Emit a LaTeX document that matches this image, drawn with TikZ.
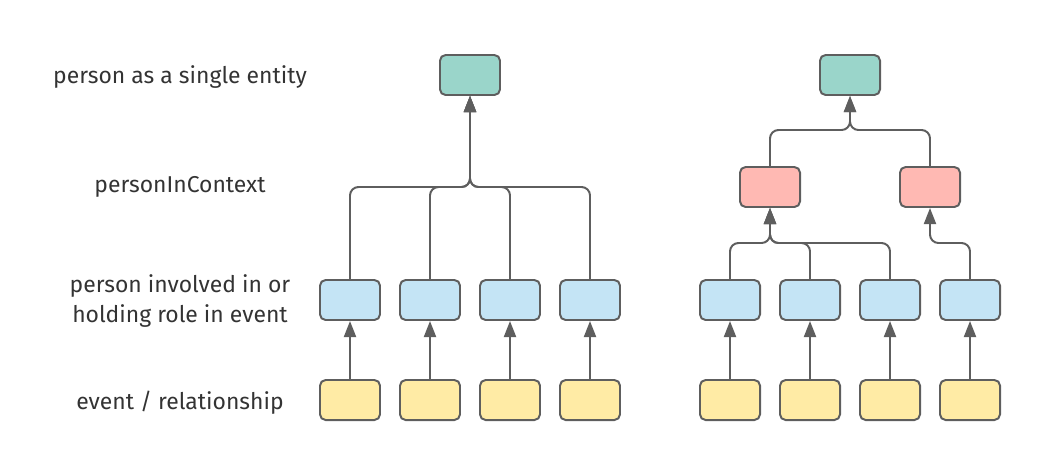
\documentclass[tikz,border=0pt]{standalone}
\usepackage{fontspec}
\setmainfont{Fira Sans}
\usetikzlibrary{arrows.meta}
\definecolor{edgegray}{HTML}{5E5E5E}
\definecolor{textgray}{HTML}{333333}
\definecolor{entitygreen}{HTML}{9AD5CA}
\definecolor{contextred}{HTML}{FFB9B3}
\definecolor{rolesblue}{HTML}{C4E4F5}
\definecolor{eventyellow}{HTML}{FFEBA5}
\tikzset{
  box/.style={draw=edgegray, line width=1.4pt, rounded corners=4pt,
    minimum width=1.5cm, minimum height=1cm, inner sep=0pt},
  entity/.style={box, fill=entitygreen},
  context/.style={box, fill=contextred},
  role/.style={box, fill=rolesblue},
  event/.style={box, fill=eventyellow},
  link/.style={draw=edgegray, line width=1.4pt, rounded corners=6pt,
    -{Triangle[length=0.4cm, width=0.3cm]}},
  levellabel/.style={text=textgray, font=\fontsize{16.3}{22}\selectfont, align=center}
}
\begin{document}
\begin{tikzpicture}[x=0.025cm, y=-0.025cm]
  \useasboundingbox (0,0) rectangle (1040,470);
  % level labels
  \node[levellabel] (lblEntity) at (180,77) {person as a single entity};
  \node[levellabel] (lblContext) at (180,187) {personInContext};
  \node[levellabel] (lblRole) at (180,301) {person involved in or\\holding role in event};
  \node[levellabel] (lblEvent) at (180,403) {event / relationship};
  % left tree
  \node[entity] (lTop) at (470,75) {};
  \foreach \i/\x in {1/350, 2/430, 3/510, 4/590} {
    \node[role] (lRole\i) at (\x,300) {};
    \node[event] (lEvent\i) at (\x,400) {};
    \draw[link] (lEvent\i.north) -- (lRole\i.south);
  }
  \coordinate (lBus) at (470,187);
  \foreach \i in {1,...,4}
    \draw[link] (lRole\i.north) |- (lBus) -- (lTop.south);
  % right tree
  \node[entity] (rTop) at (850,75) {};
  \node[context] (rCtx1) at (770,187) {};
  \node[context] (rCtx2) at (930,187) {};
  \foreach \i/\x in {1/730, 2/810, 3/890, 4/970} {
    \node[role] (rRole\i) at (\x,300) {};
    \node[event] (rEvent\i) at (\x,400) {};
    \draw[link] (rEvent\i.north) -- (rRole\i.south);
  }
  \coordinate (rBusTop) at (850,130);
  \coordinate (rBusLeft) at (770,243);
  \coordinate (rBusRight) at (930,243);
  \draw[link] (rCtx1.north) |- (rBusTop) -- (rTop.south);
  \draw[link] (rCtx2.north) |- (rBusTop) -- (rTop.south);
  \foreach \i in {1,2,3}
    \draw[link] (rRole\i.north) |- (rBusLeft) -- (rCtx1.south);
  \draw[link] (rRole4.north) |- (rBusRight) -- (rCtx2.south);
\end{tikzpicture}
\end{document}
